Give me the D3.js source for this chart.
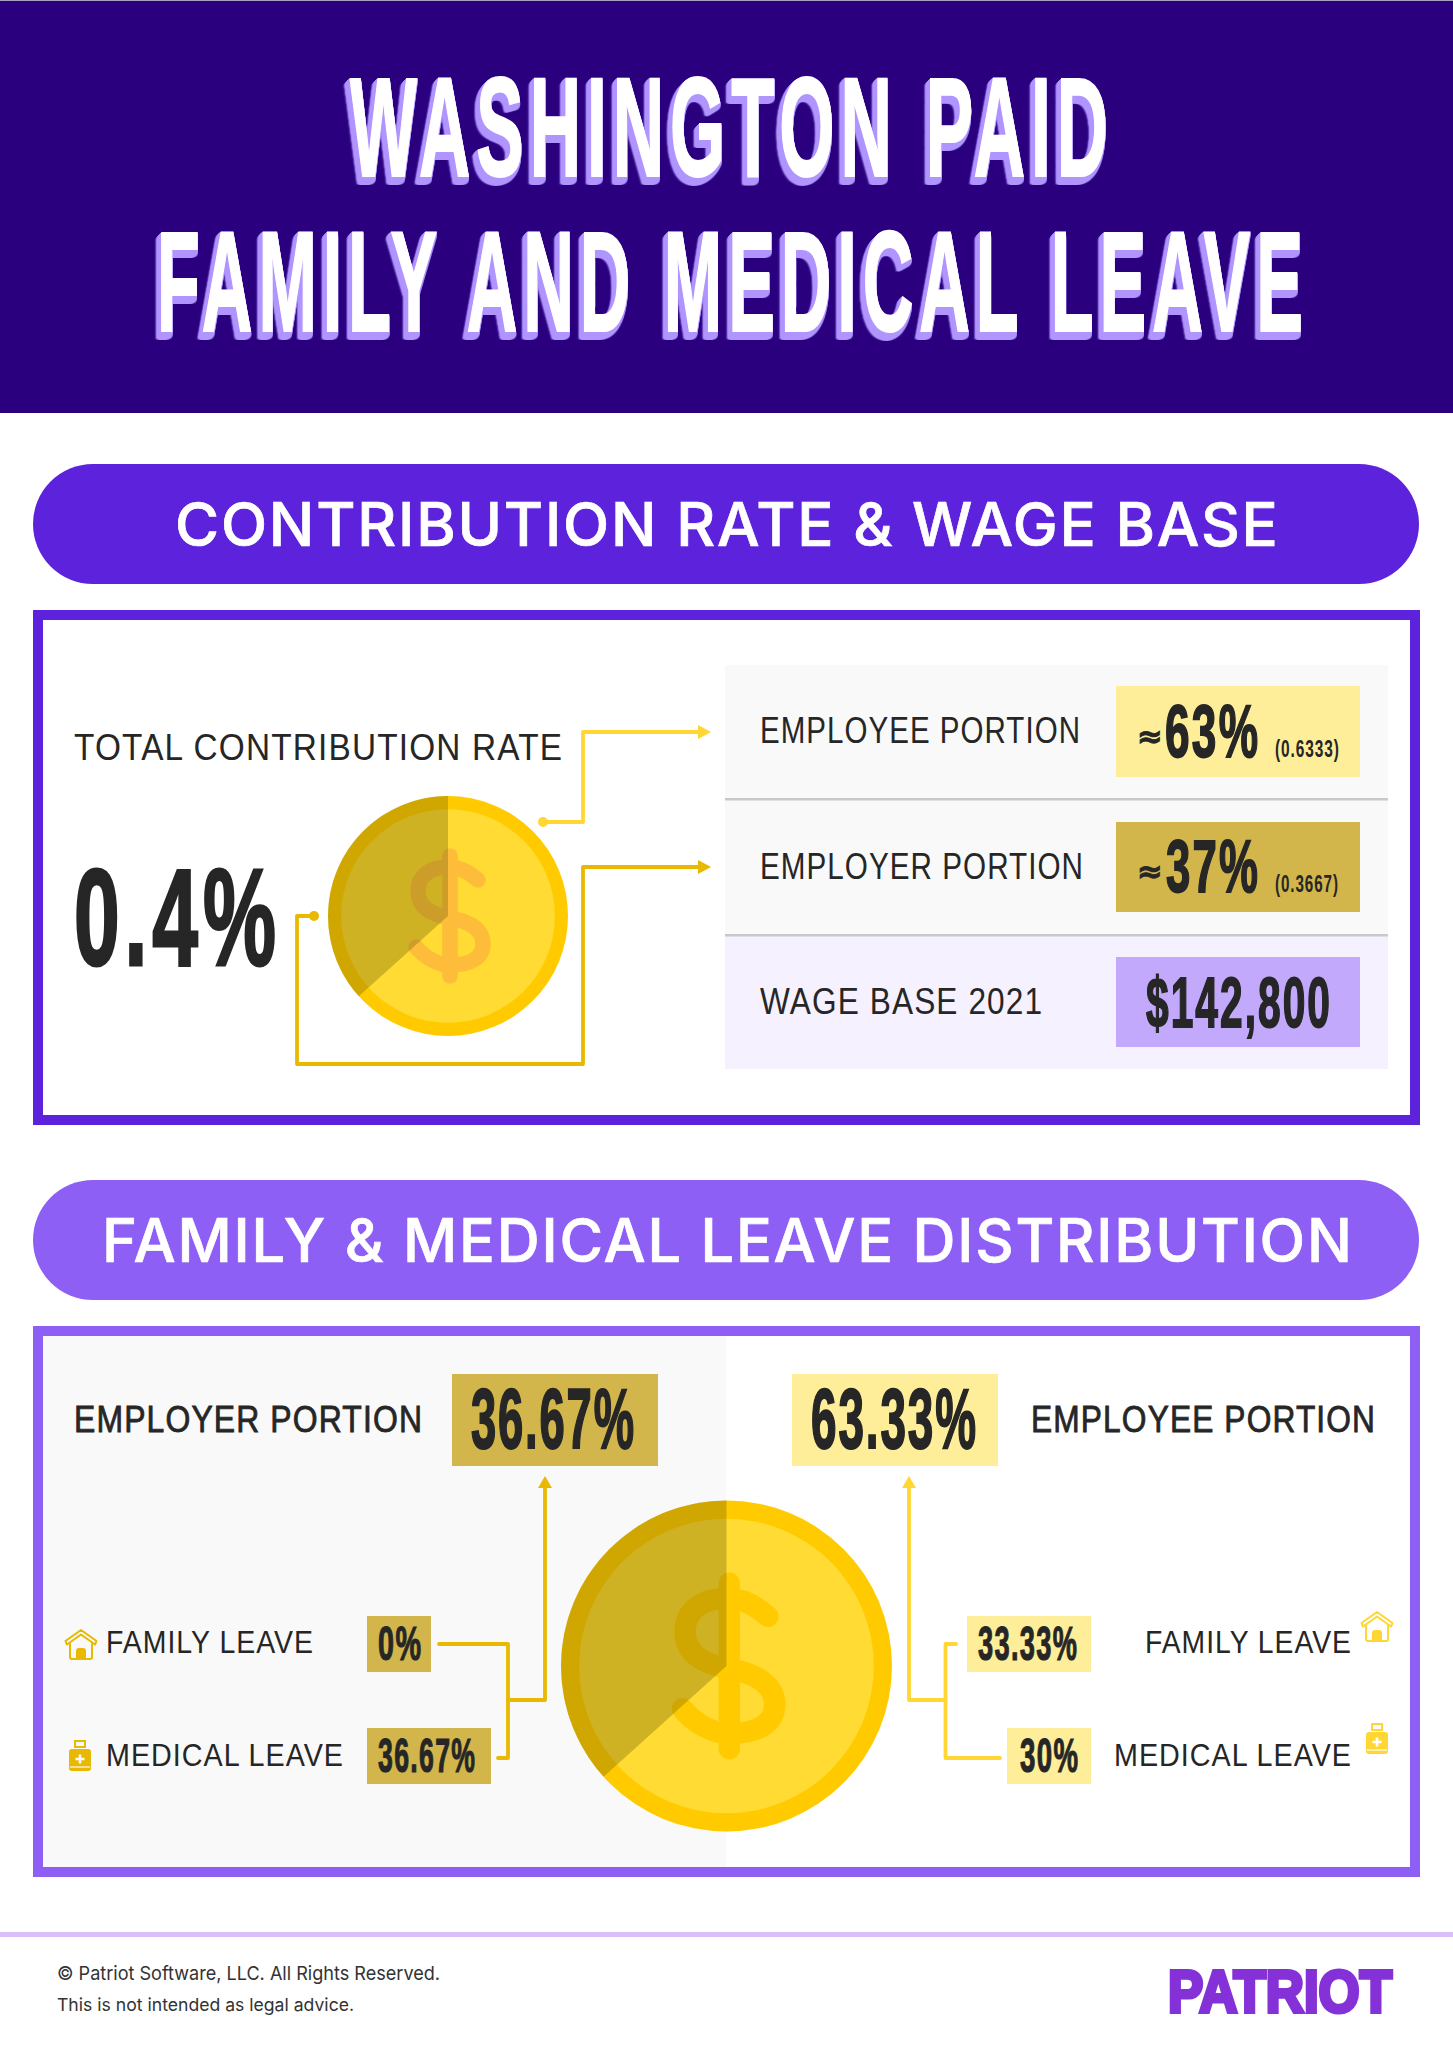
<!DOCTYPE html>
<html><head><meta charset="utf-8">
<script src="https://cdn.jsdelivr.net/npm/d3@7"></script>
<style>html,body{margin:0;padding:0;background:#fff}svg{display:block}</style></head>
<body><svg id="c" width="1453" height="2048" viewBox="0 0 1453 2048"></svg>
<script>
// ---- data ----
const titleLines = ["WASHINGTON PAID", "FAMILY AND MEDICAL LEAVE"];
const sectionTitles = ["CONTRIBUTION RATE & WAGE BASE", "FAMILY & MEDICAL LEAVE DISTRIBUTION"];
const totalRateLabel = "TOTAL CONTRIBUTION RATE";
const totalRate = ["0.4%"];
const portionLabels = ["EMPLOYER PORTION", "EMPLOYEE PORTION"];
const portionShares = [36.67, 63.33];
const portionRounded = ["37%", "63%"];
const portionDecimals = ["(0.3667)", "(0.6333)"];
const wageBaseLabel = "WAGE BASE 2021";
const wageBase = ["$142,800"];
const leaveLabels = ["FAMILY LEAVE", "MEDICAL LEAVE"];
const employerLeave = [0, 36.67];
const employeeLeave = [33.33, 30];
const footerLines = ["\u00A9 Patriot Software, LLC. All Rights Reserved.", "This is not intended as legal advice."];
const brand = "PATRIOT";

// ---- palette ----
const ink = "#262626", gold = "#D2B64B", pale = "#FFEE99", lilac = "#C3A9FB";
const lineDark = "#E9B800", lineLight = "#FFD633";
const violet = "#5D22DB", purple = "#8E5FF5";
const NARROW = "'Liberation Sans Narrow','Liberation Sans',sans-serif";
const SANS = "'Liberation Sans',sans-serif";

const svg = d3.select("#c");
const ctx = document.createElement("canvas").getContext("2d");
function capRatio(font, weight) {
  ctx.font = `${weight} 200px ${font}`;
  return ctx.measureText("H").actualBoundingBoxAscent / 200;
}
// real text fitted to an ink box
function fit(str, x0, x1, top, base, o = {}) {
  const font = o.font || SANS, weight = o.weight || 400;
  const fs = (base - top) / capRatio(font, weight);
  const ls = (o.ls || 0) * fs;
  const t = svg.append("text").text(str)
    .attr("font-family", font).attr("font-weight", weight).attr("font-size", fs)
    .attr("fill", o.fill || ink);
  if (ls) t.attr("letter-spacing", ls);
  if (o.ws) t.attr("word-spacing", o.ws * fs);
  if (o.stroke) t.attr("stroke", o.fill || ink).attr("stroke-width", o.stroke).attr("stroke-linejoin", "miter");
  if (o.filter) t.style("filter", o.filter);
  const sx = (x1 - x0) / (t.node().getComputedTextLength() - ls);
  t.attr("transform", `translate(${x0},${base}) scale(${sx},1)`);
  return t;
}
const rect = (x, y, w, h, fill, rx) => svg.append("rect").attr("x", x).attr("y", y).attr("width", w).attr("height", h).attr("fill", fill).attr("rx", rx || 0);
const lineGen = d3.line();
function wire(pts, color) {
  svg.append("path").attr("d", lineGen(pts)).attr("fill", "none").attr("stroke", color)
    .attr("stroke-width", 3.8).attr("stroke-linejoin", "round").attr("stroke-linecap", "round");
}
const tri = (pts, color) => svg.append("path").attr("d", lineGen(pts) + "Z").attr("fill", color);
const arrowRight = (x, y, c) => tri([[x, y], [x - 13, y - 7], [x - 13, y + 7]], c);
const arrowUp = (x, y, c) => tri([[x, y], [x - 7, y + 12], [x + 7, y + 12]], c);
const dot = (x, y, c) => svg.append("circle").attr("cx", x).attr("cy", y).attr("r", 5).attr("fill", c);

// coin: pie split into the employer / employee shares
function coin(cx, cy, r, dollarColor) {
  const k = r / 120, g = svg.append("g").attr("transform", `translate(${cx},${cy})`);
  g.append("circle").attr("r", r).attr("fill", "#FFCB00");
  g.append("circle").attr("r", r * 0.89).attr("fill", "#FFDB33");
  const d = g.append("g").attr("fill", "none").attr("stroke", dollarColor).attr("stroke-width", 15.5 * k).attr("stroke-linecap", "round");
  d.append("path").attr("d", d3.line()([[2, -60], [2, 60]].map(p => [p[0] * k, p[1] * k])));
  const S = `M${30*k},${-36*k} C${18*k},${-46*k} ${10*k},${-49*k} ${0},${-49*k} C${-18*k},${-49*k} ${-30*k},${-40*k} ${-30*k},${-25*k} C${-30*k},${-9*k} ${-18*k},${-2*k} ${2*k},${2*k} C${24*k},${6*k} ${35*k},${15*k} ${35*k},${28*k} C${35*k},${42*k} ${22*k},${49*k} ${2*k},${49*k} C${-10*k},${49*k} ${-24*k},${41*k} ${-32*k},${31*k}`;
  d.append("path").attr("d", S);
  const pie = d3.pie().sort(null).startAngle(-2 * Math.PI * portionShares[0] / 100).endAngle(2 * Math.PI * (1 - portionShares[0] / 100));
  g.selectAll("path.slice").data(pie(portionShares)).join("path").attr("class", "slice")
    .attr("d", d3.arc().innerRadius(0).outerRadius(r))
    .attr("fill", (d, i) => i === 0 ? "rgba(90,80,0,0.29)" : "none");
}
function house(x, y, s, c) {
  const g = svg.append("g").attr("transform", `translate(${x},${y}) scale(${s})`).attr("fill", "none").attr("stroke", c).attr("stroke-width", 2).attr("stroke-linejoin", "round").attr("stroke-linecap", "round");
  g.append("path").attr("d", "M1.5,12 L17,1 L32.5,12 L31,15.5 L17,5.5 L3,15.5 Z");
  g.append("path").attr("d", "M6,15 V28 Q6,30 8,30 H26 Q28,30 28,28 V15");
  g.append("path").attr("d", "M13,30 V22 Q13,20 15,20 H19 Q21,20 21,22 V30 Z").attr("fill", c);
}
function bottle(x, y, s, c, bg) {
  const g = svg.append("g").attr("transform", `translate(${x},${y}) scale(${s})`);
  g.append("path").attr("d", "M6,1 H16 V7 H6 Z").attr("fill", "none").attr("stroke", c).attr("stroke-width", 2);
  g.append("rect").attr("x", 0).attr("y", 9).attr("width", 22).attr("height", 22).attr("rx", 3).attr("fill", c);
  g.append("path").attr("d", "M11,14.5 V23.5 M6.5,19 H15.5").attr("stroke", bg).attr("stroke-width", 2.6);
  g.append("path").attr("d", "M1,27 H21").attr("stroke", bg).attr("stroke-width", 1.2);
}

// ---- header ----
rect(0, 0, 1453, 413, "#2A007F");
rect(0, 0, 1453, 1, "#A9A0C8");
const extrude = d3.range(8).map(() => "drop-shadow(-0.4px 1px 0 #B095FF)").join(" ");
[[titleLines[0], 350, 1108, 78, 176], [titleLines[1], 157, 1303, 232, 331]].forEach(([t, a, b, top, base]) => {
  fit(t, a, b, top, base, { font: NARROW, weight: 700, fill: "#fff", stroke: 2, ls: 0.085, ws: 0.03, filter: extrude });
});

// ---- section 1 ----
rect(33, 464, 1386, 120, violet, 60);
fit(sectionTitles[0], 175, 1278, 502, 546, { font: "Inter,sans-serif", weight: 500, fill: "#fff", stroke: 0.7, ls: 0.03 });
svg.append("rect").attr("x", 38).attr("y", 615).attr("width", 1377).attr("height", 505).attr("fill", "#fff").attr("stroke", violet).attr("stroke-width", 10);

fit(totalRateLabel, 74, 562, 735, 760, { ls: 0.035 });
fit(totalRate[0], 74, 276, 869, 965, { font: NARROW, weight: 700, stroke: 3, ls: 0.06 });

rect(725, 665, 663, 134, "#F9F9F9");
rect(725, 799, 663, 136, "#F9F9F9");
rect(725, 935, 663, 134, "#F5F1FE");
rect(725, 798, 663, 2.5, "#C9C9C9");
rect(725, 934, 663, 2.5, "#C9C9C9");
rect(1116, 686, 244, 91, pale);
rect(1116, 822, 244, 90, gold);
rect(1116, 957, 244, 90, lilac);
fit(portionLabels[1], 760, 1080, 718, 743, { ls: 0.035 });
fit(portionLabels[0], 760, 1083, 854, 879, { ls: 0.035 });
fit(wageBaseLabel, 760, 1042, 989, 1014, { ls: 0.035 });

function approx(x, y) {
  svg.append("text").text("\u2248").attr("x", x).attr("y", y).attr("font-family", "'DejaVu Sans'").attr("font-weight", 700).attr("font-size", 31).attr("fill", ink).attr("stroke", ink).attr("stroke-width", 0.8);
}
approx(1137, 747);
fit(portionRounded[1], 1165, 1258, 706, 757, { font: NARROW, weight: 700, stroke: 1.8, ls: 0.05 });
fit(portionDecimals[1], 1275, 1339, 741, 757, { font: NARROW, weight: 700, ls: 0.06 });
approx(1137, 882);
fit(portionRounded[0], 1166, 1258, 841, 892, { font: NARROW, weight: 700, stroke: 1.8, ls: 0.05 });
fit(portionDecimals[0], 1275, 1338, 876, 892, { font: NARROW, weight: 700, ls: 0.06 });
fit(wageBase[0], 1146, 1330, 978, 1027, { font: NARROW, weight: 700, stroke: 1.8, ls: 0.05 });

wire([[543, 822], [583, 822], [583, 732], [700, 732]], lineLight);
arrowRight(711, 732, lineLight); dot(543, 822, lineLight);
wire([[314, 916], [297, 916], [297, 1064], [583, 1064], [583, 867], [700, 867]], lineDark);
arrowRight(711, 867, lineDark); dot(314, 916, lineDark);
coin(448, 916, 120, "#FDBD3A");

// ---- section 2 ----
rect(33, 1180, 1386, 120, purple, 60);
fit(sectionTitles[1], 102, 1352, 1218, 1262, { font: "Inter,sans-serif", weight: 500, fill: "#fff", stroke: 0.7, ls: 0.03 });
rect(38, 1331, 688, 541, "#F9F9F9");
svg.append("rect").attr("x", 38).attr("y", 1331).attr("width", 1377).attr("height", 541).attr("fill", "none").attr("stroke", purple).attr("stroke-width", 10);

const pct = v => `${v}%`;
fit(portionLabels[0], 74, 422, 1407, 1432, { stroke: 0.8, ls: 0.035 });
rect(452, 1374, 206, 92, gold);
fit(pct(portionShares[0]), 471, 634, 1389, 1448, { font: NARROW, weight: 700, stroke: 2, ls: 0.04 });
fit(portionLabels[1], 1031, 1375, 1407, 1432, { stroke: 0.8, ls: 0.035 });
rect(792, 1374, 206, 92, pale);
fit(pct(portionShares[1]), 811, 976, 1389, 1448, { font: NARROW, weight: 700, stroke: 2, ls: 0.04 });

wire([[439, 1644], [508, 1644], [508, 1758], [498, 1758]], lineDark);
wire([[508, 1700], [545, 1700], [545, 1485]], lineDark);
arrowUp(545, 1476, lineDark);
wire([[956, 1644], [945.5, 1644], [945.5, 1758], [1000, 1758]], lineLight);
wire([[945.5, 1700], [909, 1700], [909, 1485]], lineLight);
arrowUp(909, 1476, lineLight);

rect(367, 1616, 64, 56, gold);
rect(367, 1728, 124, 56, gold);
rect(967, 1616, 124, 56, pale);
rect(1007, 1728, 84, 56, pale);
fit(pct(employerLeave[0]), 378, 421, 1626, 1660, { font: NARROW, weight: 700, stroke: 1.2, ls: 0.05 });
fit(pct(employerLeave[1]), 378, 475, 1738, 1772, { font: NARROW, weight: 700, stroke: 1.2, ls: 0.05 });
fit(pct(employeeLeave[0]), 978, 1077, 1626, 1660, { font: NARROW, weight: 700, stroke: 1.2, ls: 0.05 });
fit(pct(employeeLeave[1]), 1020, 1078, 1738, 1772, { font: NARROW, weight: 700, stroke: 1.2, ls: 0.05 });

fit(leaveLabels[0], 106, 313, 1631, 1653, { ls: 0.035 });
fit(leaveLabels[1], 106, 343, 1744, 1766, { ls: 0.035 });
fit(leaveLabels[0], 1145, 1351, 1631, 1653, { ls: 0.035 });
fit(leaveLabels[1], 1114, 1351, 1744, 1766, { ls: 0.035 });
house(64, 1629, 1, lineDark);
bottle(69, 1740, 1, lineDark, "#F9F9F9");
house(1360, 1611, 1, lineLight);
bottle(1366, 1723, 1, lineLight, "#fff");
coin(726.5, 1666, 165.5, "#FFCB00");

// ---- footer ----
rect(0, 1932, 1453, 5, "#D9BEF8");
fit(footerLines[0], 57, 440, 1966, 1980, { font: "Inter,sans-serif", fill: "#333" });
fit(footerLines[1], 57, 354, 1998, 2011, { font: "Inter,sans-serif", fill: "#333" });
fit(brand, 1168, 1392, 1971, 2012, { weight: 700, fill: "#8531D8", stroke: 4 });
</script></body></html>
